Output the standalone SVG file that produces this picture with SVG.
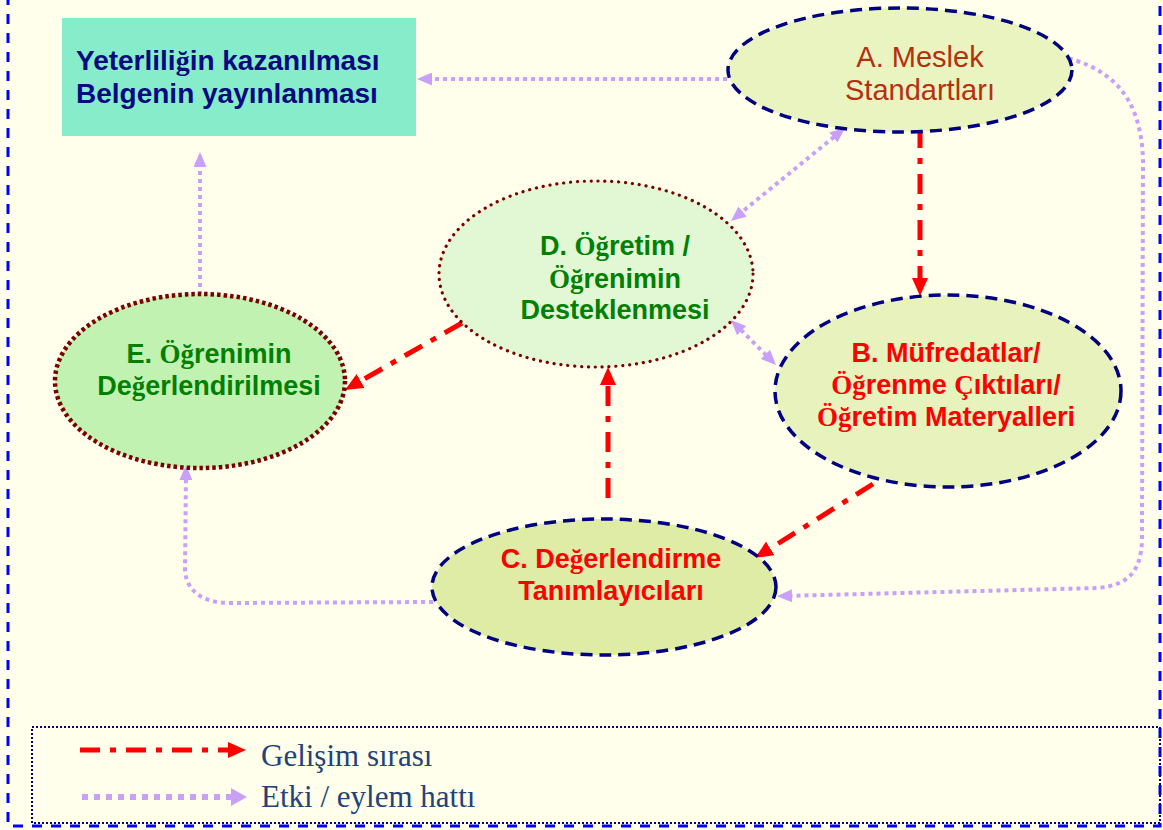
<svg xmlns="http://www.w3.org/2000/svg" width="1163" height="830" viewBox="0 0 1163 830">
<style>
.bg{fill:#FFFFEB}
.sans{font-family:"Liberation Sans",Arial,sans-serif}
.b{font-weight:bold}
.sf{font-family:"Liberation Serif","Times New Roman",serif}
.navyDash{stroke:#000080;stroke-width:3.5;stroke-dasharray:12 7}
.redDot{stroke:#7A0000;stroke-width:3.2;stroke-dasharray:0.1 6.8;stroke-linecap:round}
.redDotSq{stroke:#7A0000;stroke-width:4.5;stroke-dasharray:3.5 3}
.dev{fill:none;stroke:#FF0000;stroke-width:5;stroke-dasharray:20 10 6 10}
.eff{fill:none;stroke:#C8A0FA;stroke-width:4;stroke-dasharray:4 4}
.t27{font-size:27px;text-anchor:middle}
.green{fill:#008000}
.red{fill:#FF0000}
.leg{font-family:"Liberation Serif","Times New Roman",serif;font-size:31px;fill:#22427A}
</style>
<defs>
<marker id="ra" markerWidth="18" markerHeight="16" refX="12" refY="8" orient="auto-start-reverse" markerUnits="userSpaceOnUse"><path d="M0,0 L18,8 L0,16 z" fill="#FF0000"/></marker>
<marker id="la" markerWidth="15" markerHeight="13" refX="9" refY="6.5" orient="auto-start-reverse" markerUnits="userSpaceOnUse"><path d="M0,0 L15,6.5 L0,13 z" fill="#C8A0FA"/></marker>
<marker id="lal" markerWidth="16" markerHeight="18" refX="10" refY="9" orient="auto" markerUnits="userSpaceOnUse"><path d="M0,0 L16,9 L0,18 z" fill="#C8A0FA"/></marker>
</defs>
<rect class="bg" x="0" y="0" width="1163" height="830"/>
<rect x="8" y="-20" width="1152" height="846" fill="none" stroke="#0000FF" stroke-width="3" stroke-dasharray="10 9"/>

<g id="connectors">
<path class="eff" d="M727,79 L423,79" marker-end="url(#la)"/>
<path class="eff" d="M1053,55 C1110,65 1141,95 1143,160 L1142,540 C1141,572 1128,585 1098,588 L783,596" marker-end="url(#la)"/>
<path class="eff" d="M840.3,131.8 L735.6,217.2" marker-start="url(#la)" marker-end="url(#la)"/>
<path class="eff" d="M735.2,324.2 L771.8,360.8" marker-start="url(#la)" marker-end="url(#la)"/>
<path class="eff" d="M200,295 L200,158" marker-end="url(#la)"/>
<path class="eff" d="M433,602 L230,603 C202,603 186,590 185,570 L186,471" marker-end="url(#la)"/>
<path class="dev" d="M920,128 L920,290" marker-end="url(#ra)"/>
<path class="dev" d="M873,484 L760.1,554.8" marker-end="url(#ra)"/>
<path class="dev" d="M608,498 L608,373" marker-end="url(#ra)"/>
<path class="dev" d="M462,323 L350.2,387" marker-end="url(#ra)"/>
</g>

<g id="box">
<rect x="62" y="18" width="354" height="118" fill="#86ECCA"/>
<text class="sans b" x="76" y="70" font-size="28" fill="#0A0A80">Yeterlili<tspan class="sf">ğ</tspan>in kazanılması</text>
<text class="sans b" x="76" y="103" font-size="28" fill="#0A0A80">Belgenin yayınlanması</text>
</g>

<g id="nodeA">
<ellipse cx="900" cy="70" rx="172" ry="62" fill="#EAF4C0" class="navyDash"/>
<text class="sans" x="920" y="67" font-size="29" text-anchor="middle" fill="#B5300E">A. Meslek</text>
<text class="sans" x="920" y="100" font-size="29" text-anchor="middle" fill="#B5300E">Standartları</text>
</g>

<g id="nodeD">
<ellipse cx="596" cy="274" rx="157" ry="93" fill="#E2F8D4" class="redDot"/>
<text class="sans b t27 green" x="615" y="255">D. <tspan class="sf">Öğ</tspan>retim /</text>
<text class="sans b t27 green" x="615" y="288"><tspan class="sf">Öğ</tspan>renimin</text>
<text class="sans b t27 green" x="615" y="319">Desteklenmesi</text>
</g>

<g id="nodeE">
<ellipse cx="200" cy="381" rx="145" ry="87" fill="#C2F2B2" class="redDotSq"/>
<text class="sans b t27 green" x="209" y="363">E. <tspan class="sf">Öğ</tspan>renimin</text>
<text class="sans b t27 green" x="209" y="395">De<tspan class="sf">ğ</tspan>erlendirilmesi</text>
</g>

<g id="nodeB">
<ellipse cx="948" cy="391" rx="173" ry="96" fill="#E8F2BC" class="navyDash"/>
<text class="sans b t27 red" x="946" y="362">B. Müfredatlar/</text>
<text class="sans b t27 red" x="946" y="394"><tspan class="sf">Öğ</tspan>renme <tspan class="sf">Ç</tspan>ıktıları/</text>
<text class="sans b t27 red" x="946" y="426"><tspan class="sf">Öğ</tspan>retim Materyalleri</text>
</g>

<g id="nodeC">
<ellipse cx="604" cy="587" rx="172" ry="68" fill="#DEECA6" class="navyDash"/>
<text class="sans b t27 red" x="611" y="568">C. De<tspan class="sf">ğ</tspan>erlendirme</text>
<text class="sans b t27 red" x="611" y="600">Tanımlayıcıları</text>
</g>

<g id="legend">
<rect x="32" y="727" width="1128" height="96" fill="none" stroke="#000080" stroke-width="2" stroke-dasharray="2 2"/>
<path class="dev" d="M80,750 L240,750" marker-end="url(#ra)"/>
<text class="leg" x="261" y="766">Gelişim sırası</text>
<path d="M82,797 L241,797" fill="none" stroke="#C8A0FA" stroke-width="6" stroke-dasharray="6 6" marker-end="url(#lal)"/>
<text class="leg" x="261" y="807">Etki / eylem hattı</text>
</g>
</svg>
